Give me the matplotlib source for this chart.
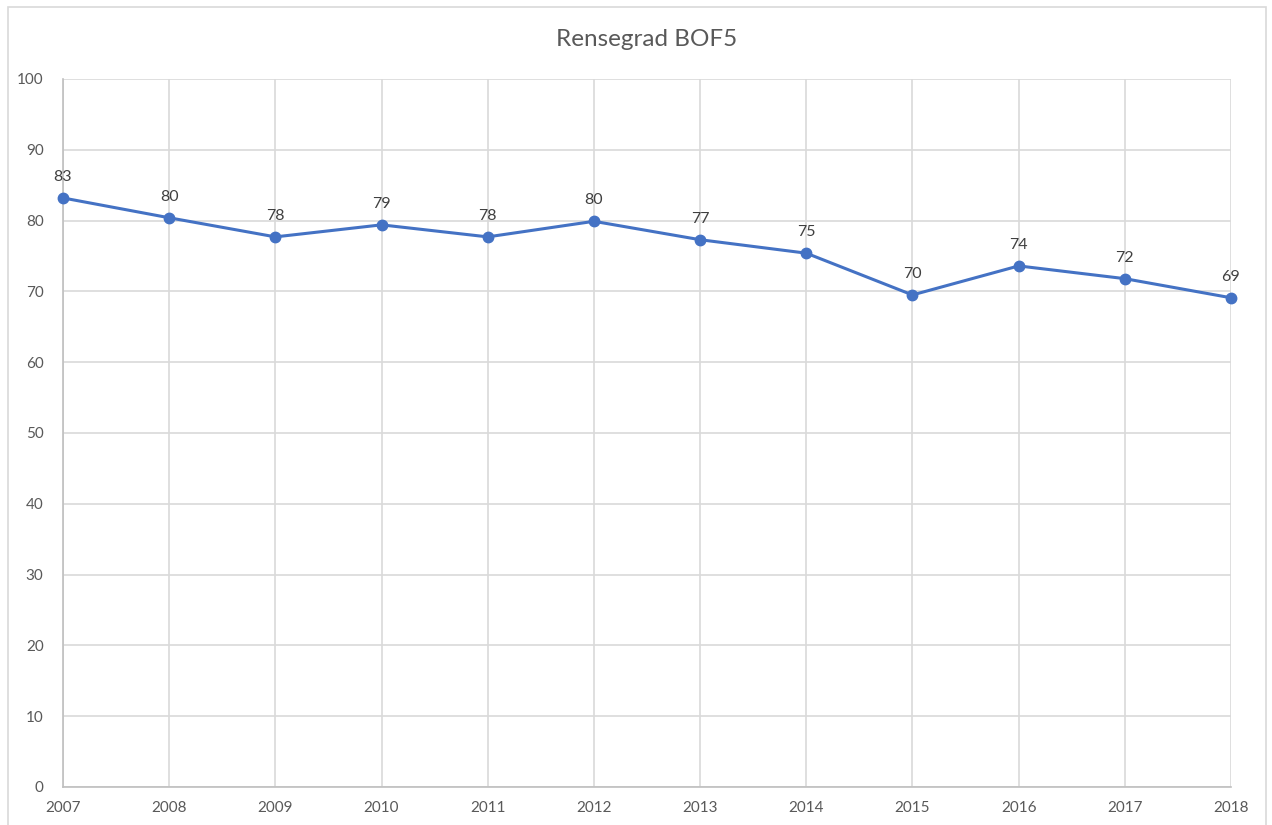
import matplotlib
matplotlib.use("Agg")
import matplotlib.pyplot as plt
from matplotlib.patches import Rectangle

years = [2007, 2008, 2009, 2010, 2011, 2012, 2013, 2014, 2015, 2016, 2017, 2018]
values = [83.2, 80.4, 77.7, 79.4, 77.7, 79.9, 77.3, 75.4, 69.5, 73.6, 71.8, 69.1]
yticks = [0, 10, 20, 30, 40, 50, 60, 70, 80, 90, 100]
title = "Rensegrad BOF5"

plt.rcParams['font.family'] = ['Lato', 'DejaVu Sans']

W, H = 1272, 825
fig = plt.figure(figsize=(W / 100, H / 100), dpi=100)
fig.patches.append(Rectangle((8 / W, -0.05), (1266 - 8) / W, 1.05 - 7 / H,
                             transform=fig.transFigure, fill=False,
                             edgecolor='#d9d9d9', linewidth=1.2))

ax = fig.add_axes([63 / W, 1 - 787 / H, (1231 - 63) / W, (787 - 79) / H])
ax.plot(years, values, color='#4472c4', linewidth=2.2, marker='o', markersize=7.5,
        zorder=3, clip_on=False)
for x, v in zip(years, values):
    ax.annotate(f"{v:.0f}", (x, v), xytext=(0, 10), textcoords='offset points',
                ha='center', va='bottom', fontsize=11.5, color='#404040')

ax.set_xlim(years[0], years[-1])
ax.set_ylim(0, 100)
ax.set_xticks(years)
ax.set_yticks(yticks)
ax.set_xticklabels([str(y) for y in years])
ax.grid(True, color='#d9d9d9', linewidth=1.2)
ax.set_axisbelow(True)
for s in ['top', 'right']:
    ax.spines[s].set_visible(False)
ax.spines['left'].set_color('#bfbfbf')
ax.spines['bottom'].set_color('#bfbfbf')
ax.spines['left'].set_linewidth(1.2)
ax.spines['bottom'].set_linewidth(1.2)
ax.tick_params(axis='both', length=0, labelsize=11, labelcolor='#595959')
ax.tick_params(axis='x', pad=10)
ax.tick_params(axis='y', pad=14)

fig.text((63 + 1231) / 2 / W, 1 - 40 / H, title, ha='center', va='center',
         fontsize=17.5, color='#595959')

fig.savefig("out.png", dpi=100)
